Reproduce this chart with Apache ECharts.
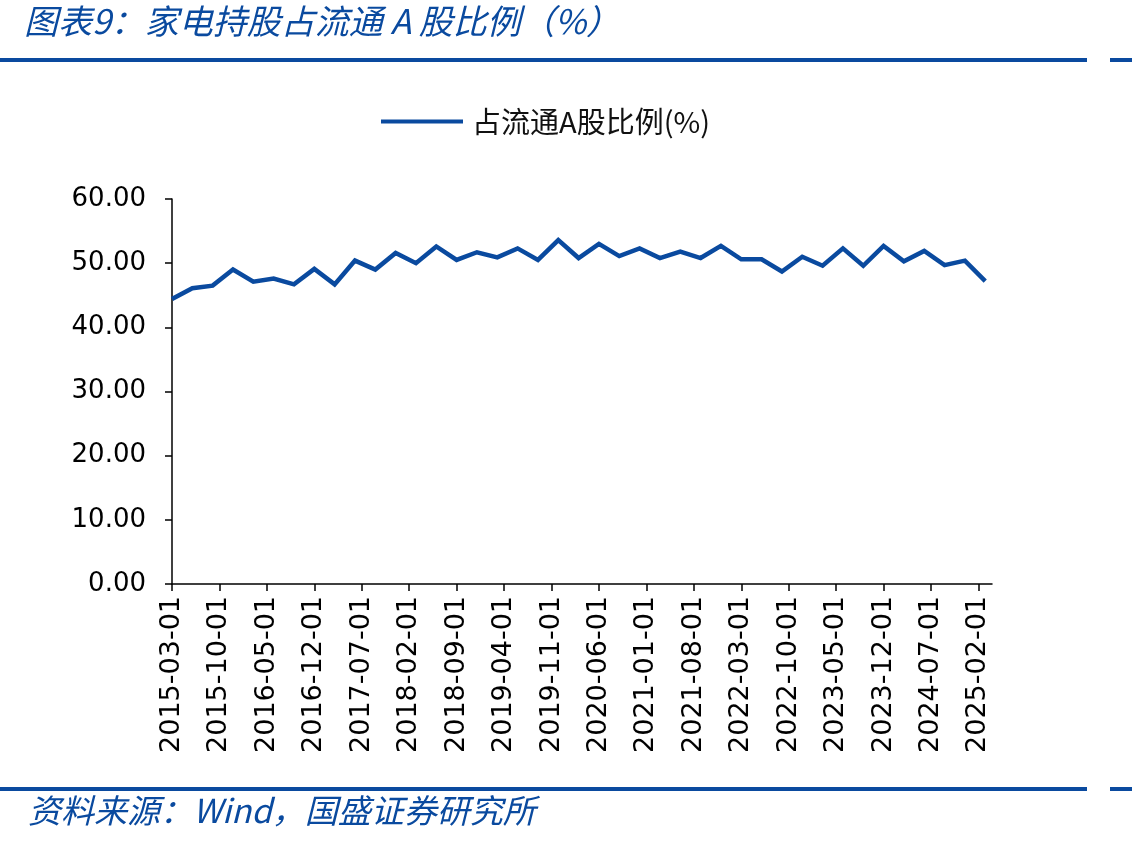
<!DOCTYPE html>
<html>
<head>
<meta charset="utf-8">
<script src="https://cdn.jsdelivr.net/npm/echarts@6/dist/echarts.min.js"></script>
<style>
html,body{margin:0;padding:0;background:#fff;}
#chart{width:1132px;height:844px;}
</style>
</head>
<body>
<div id="chart"></div>
<script>
// Quarterly observation dates
const quarterDates = [
  '2015-03-01','2015-06-01','2015-09-01','2015-12-01',
  '2016-03-01','2016-06-01','2016-09-01','2016-12-01',
  '2017-03-01','2017-06-01','2017-09-01','2017-12-01',
  '2018-03-01','2018-06-01','2018-09-01','2018-12-01',
  '2019-03-01','2019-06-01','2019-09-01','2019-12-01',
  '2020-03-01','2020-06-01','2020-09-01','2020-12-01',
  '2021-03-01','2021-06-01','2021-09-01','2021-12-01',
  '2022-03-01','2022-06-01','2022-09-01','2022-12-01',
  '2023-03-01','2023-06-01','2023-09-01','2023-12-01',
  '2024-03-01','2024-06-01','2024-09-01','2024-12-01',
  '2025-03-01'
];
// 占流通A股比例(%)
const shareValues = [
  44.4, 46.1, 46.5, 49.0, 47.1, 47.6, 46.7, 49.1, 46.7, 50.4,
  49.0, 51.6, 50.0, 52.6, 50.5, 51.7, 50.9, 52.3, 50.5, 53.6,
  50.8, 53.0, 51.1, 52.3, 50.8, 51.8, 50.8, 52.7, 50.6, 50.6,
  48.7, 51.0, 49.6, 52.3, 49.6, 52.7, 50.3, 51.9, 49.7, 50.4,
  47.2
];
const seriesName = '占流通A股比例(%)';
const titleText = '图表9：家电持股占流通 A 股比例（%）';
const sourceText = '资料来源：Wind，国盛证券研究所';
const yTicks = [0, 10, 20, 30, 40, 50, 60];
const axisStart = '2015-03-01';
const axisEnd = '2025-04-01';

// monthly category axis (Excel-style date axis, labels every 7 months)
const axisMonths = [];
(function(){
  let y = +axisStart.slice(0,4), m = +axisStart.slice(5,7);
  const ey = +axisEnd.slice(0,4), em = +axisEnd.slice(5,7);
  while (y < ey || (y === ey && m <= em)) {
    axisMonths.push(y + '-' + String(m).padStart(2,'0') + '-01');
    m++; if (m > 12) { m = 1; y++; }
  }
})();

const seriesData = quarterDates.map((d, i) => [axisMonths.indexOf(d), shareValues[i]]);

const blue = '#0a4a9f';
const chart = echarts.init(document.getElementById('chart'), null, {renderer: 'canvas'});
chart.setOption({
  animation: false,
  backgroundColor: '#fff',
  textStyle: {fontFamily: 'DejaVu Sans'},
  grid: {left: 172, right: 140, top: 199, bottom: 260, containLabel: false},
  legend: {
    data: [seriesName],
    top: 107,
    left: 381,
    padding: 0,
    itemWidth: 82,
    itemHeight: 4,
    itemGap: 10,
    icon: 'rect',
    textStyle: {fontFamily: 'Noto Sans CJK SC', fontSize: 29, color: '#111', padding: [2,0,0,4]}
  },
  xAxis: {
    type: 'category',
    data: axisMonths,
    boundaryGap: false,
    axisLine: {lineStyle: {color: '#000', width: 1.5}},
    axisTick: {interval: 6, length: 7, lineStyle: {color: '#000', width: 1.5}},
    axisLabel: {interval: 6, rotate: 90, fontFamily: 'DejaVu Sans', fontSize: 27, color: '#000', margin: 12},
    splitLine: {show: false}
  },
  yAxis: {
    type: 'value',
    min: yTicks[0],
    max: yTicks[yTicks.length - 1],
    interval: 10,
    axisLine: {show: true, lineStyle: {color: '#000', width: 1.5}},
    axisTick: {show: true, length: 7, lineStyle: {color: '#000', width: 1.5}},
    axisLabel: {fontFamily: 'DejaVu Sans', fontSize: 26, color: '#000', margin: 26,
      formatter: v => v.toFixed(2)},
    splitLine: {show: false}
  },
  series: [{
    name: seriesName,
    type: 'line',
    data: seriesData,
    showSymbol: false,
    symbol: 'none',
    lineStyle: {color: blue, width: 4.5, join: 'miter'},
    itemStyle: {color: blue}
  }],
  graphic: [
    {type: 'text', left: 24, top: 4, style: {text: titleText, fill: blue, font: 'italic 34px "Noto Sans CJK SC"'}},
    {type: 'rect', shape: {x: 0, y: 58, width: 1087, height: 4}, style: {fill: blue}},
    {type: 'rect', shape: {x: 1110, y: 58, width: 22, height: 4}, style: {fill: blue}},
    {type: 'rect', shape: {x: 0, y: 787, width: 1087, height: 4}, style: {fill: blue}},
    {type: 'rect', shape: {x: 1110, y: 787, width: 22, height: 4}, style: {fill: blue}},
    {type: 'text', left: 28, top: 794, style: {text: sourceText, fill: blue, font: 'italic 33px "Noto Sans CJK SC"'}}
  ]
});
</script>
</body>
</html>
